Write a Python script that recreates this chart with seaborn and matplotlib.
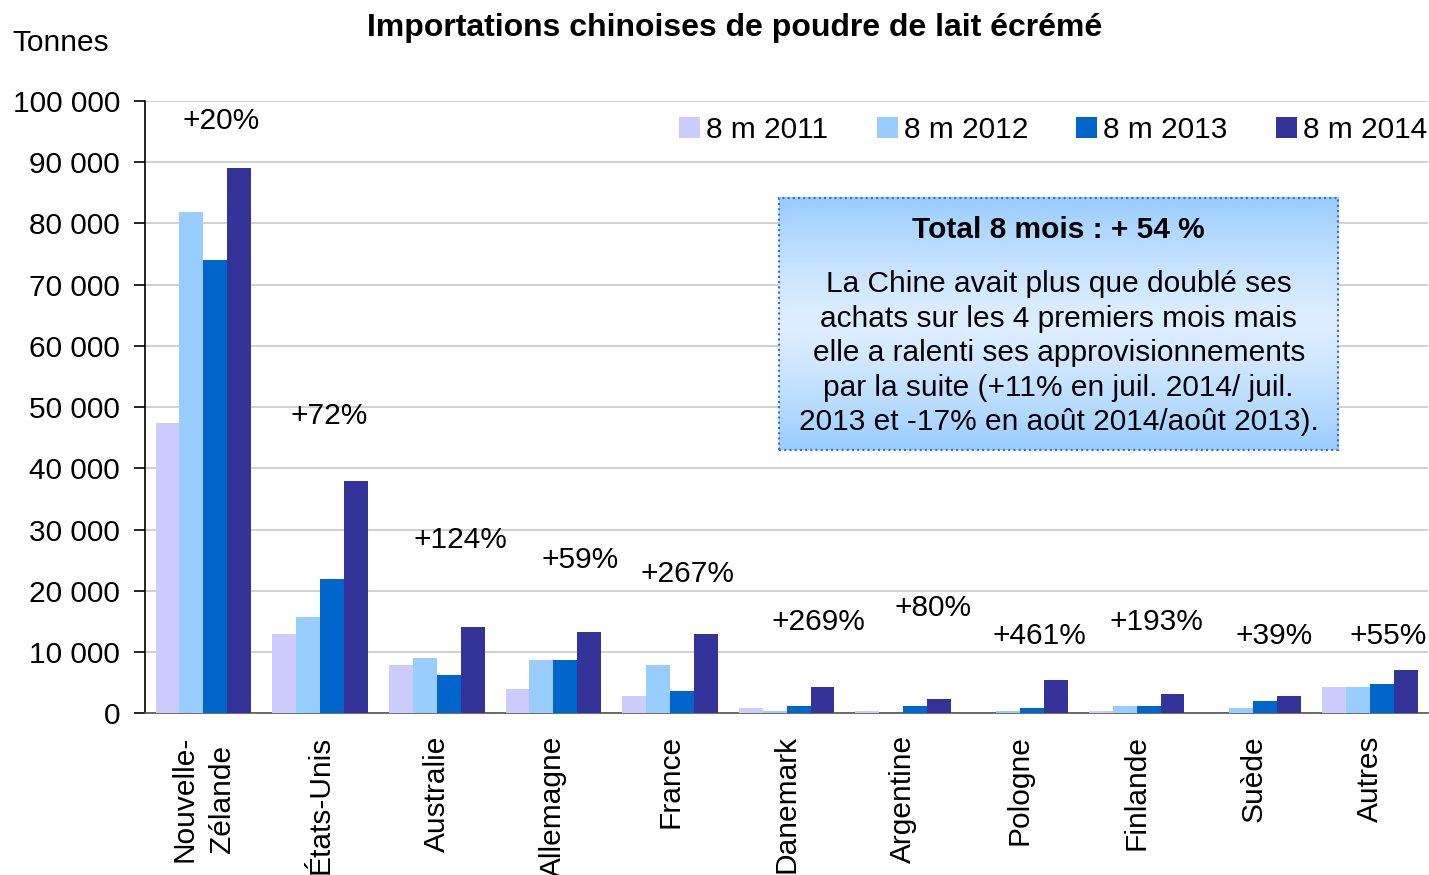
import numpy as np
import pandas as pd
import matplotlib
matplotlib.use("Agg")
import matplotlib.pyplot as plt
import seaborn as sns
from matplotlib.patches import Rectangle, Patch

# Données (tonnes)
pays = ['Nouvelle-\nZélande', 'États-Unis', 'Australie', 'Allemagne', 'France',
        'Danemark', 'Argentine', 'Pologne', 'Finlande', 'Suède', 'Autres']
periodes = ['8 m 2011', '8 m 2012', '8 m 2013', '8 m 2014']
v2011 = [47400, 12900, 7800, 3900, 2800, 800, 300, 0, 300, 0, 4300]
v2012 = [81900, 15700, 9000, 8700, 7800, 300, 0, 300, 1100, 800, 4300]
v2013 = [74000, 21900, 6200, 8700, 3600, 1100, 1100, 800, 1100, 1900, 4800]
v2014 = [89000, 38000, 14000, 13200, 12900, 4300, 2300, 5400, 3100, 2800, 7100]
variations = ['+20%', '+72%', '+124%', '+59%', '+267%', '+269%', '+80%',
              '+461%', '+193%', '+39%', '+55%']
# placement des étiquettes de variation (décalage en x, hauteur en tonnes)
decal_etiq = [0.15, 0.075, 0.20, 0.23, 0.15, 0.27, 0.255, 0.17, 0.17, 0.175, 0.16]
hauteurs_etiq = [96700, 48500, 28300, 25000, 22700, 14900, 17200,
                 12600, 14900, 12600, 12600]

couleurs = ['#CCCCFF', '#99CCFF', '#0066CC', '#333399']

df = pd.DataFrame({
    'Pays': pays * 4,
    'Période': [p for p in periodes for _ in pays],
    'Tonnes': v2011 + v2012 + v2013 + v2014,
})

sns.set_style('white')
plt.rcParams['font.family'] = ['Liberation Sans', 'DejaVu Sans']
plt.rcParams['text.color'] = 'black'
plt.rcParams['xtick.labelcolor'] = 'black'
plt.rcParams['ytick.labelcolor'] = 'black'

FS = 21.5

fig = plt.figure(figsize=(14.29, 8.75), dpi=100)
ax = fig.add_axes([0.1015, 0.185, 0.898, 0.6995])

sns.barplot(data=df, x='Pays', y='Tonnes', hue='Période', palette=couleurs,
            width=0.82, gap=0, saturation=1, linewidth=0, ax=ax,
            legend=False, zorder=3)

ax.set_xlim(-0.5, len(pays) - 0.5)
ax.set_ylim(0, 100000)
yt = np.arange(0, 100001, 10000)
ax.set_yticks(yt)
ax.set_yticklabels([f'{v:,}'.replace(',', ' ') for v in yt], fontsize=FS)
ax.yaxis.grid(True, color='#C8C8C8', linewidth=1.2, zorder=0)
ax.set_axisbelow(True)

ax.set_xticks(range(len(pays)))
ax.set_xticklabels(pays, rotation=90, va='top', ha='center', fontsize=FS,
                   linespacing=1.45)
ax.set_xticks(np.arange(-0.5, len(pays), 1), minor=True)
ax.tick_params(axis='x', which='major', length=0, pad=16)
ax.tick_params(axis='x', which='minor', length=8, width=1.2, color='#555555',
               direction='out')
ax.tick_params(axis='y', length=8, width=1.2, color='black', direction='out',
               left=True, pad=10)
ax.set_xlabel('')
ax.set_ylabel('')

for s in ['top', 'right']:
    ax.spines[s].set_visible(False)
ax.spines['left'].set_color('black')
ax.spines['left'].set_linewidth(1.2)
ax.spines['bottom'].set_color('#555555')
ax.spines['bottom'].set_linewidth(1.2)

# étiquettes de variation
for i, (txt, dx, h) in enumerate(zip(variations, decal_etiq, hauteurs_etiq)):
    ax.text(i + dx, h, txt, ha='center', va='center', fontsize=FS, zorder=5)

# légende
poignees = [Patch(facecolor=c, edgecolor='none') for c in couleurs]
ax.legend(poignees, periodes, loc='upper right', bbox_to_anchor=(1.02, 1.02),
          ncol=4, frameon=False, fontsize=FS, handlelength=0.7,
          handleheight=0.7, handletextpad=0.2, columnspacing=1.62)

# encadré avec dégradé
x0, x1, y0, y1 = 0.494, 0.930, 0.4297, 0.8415
t = np.linspace(0, 1, 256)
prof = np.abs(t - 0.5) * 2
haut = np.array([0x99, 0xCC, 0xFF]) / 255
clair = np.array([0xDD, 0xEE, 0xFF]) / 255
grad = clair[None, :] + (haut - clair)[None, :] * (prof[:, None] ** 1.4)
ax.imshow(grad[:, None, :], extent=[x0, x1, y0, y1], transform=ax.transAxes,
          aspect='auto', zorder=6, interpolation='bilinear')
ax.add_patch(Rectangle((x0, y0), x1 - x0, y1 - y0, transform=ax.transAxes,
                       fill=False, edgecolor='#3366FF', linestyle=(0, (1, 1.5)),
                       linewidth=1.5, zorder=7))
ax.set_xlim(-0.5, len(pays) - 0.5)
ax.set_ylim(0, 100000)
xc = (x0 + x1) / 2
ax.text(xc, 0.789, 'Total 8 mois : + 54 %', transform=ax.transAxes,
        ha='center', va='center', fontsize=FS, fontweight='bold', zorder=8)
ax.text(xc, 0.588,
        'La Chine avait plus que doublé ses\n'
        'achats sur les 4 premiers mois mais\n'
        'elle a ralenti ses approvisionnements\n'
        'par la suite (+11% en juil. 2014/ juil.\n'
        '2013 et -17% en août 2014/août 2013).',
        transform=ax.transAxes, ha='center', va='center', fontsize=FS,
        linespacing=1.3, zorder=8)

fig.text(0.514, 0.968, 'Importations chinoises de poudre de lait écrémé',
         ha='center', va='center', fontsize=23, fontweight='bold')
fig.text(0.009, 0.951, 'Tonnes', ha='left', va='center', fontsize=FS)

fig.savefig('out.png', dpi=100)
